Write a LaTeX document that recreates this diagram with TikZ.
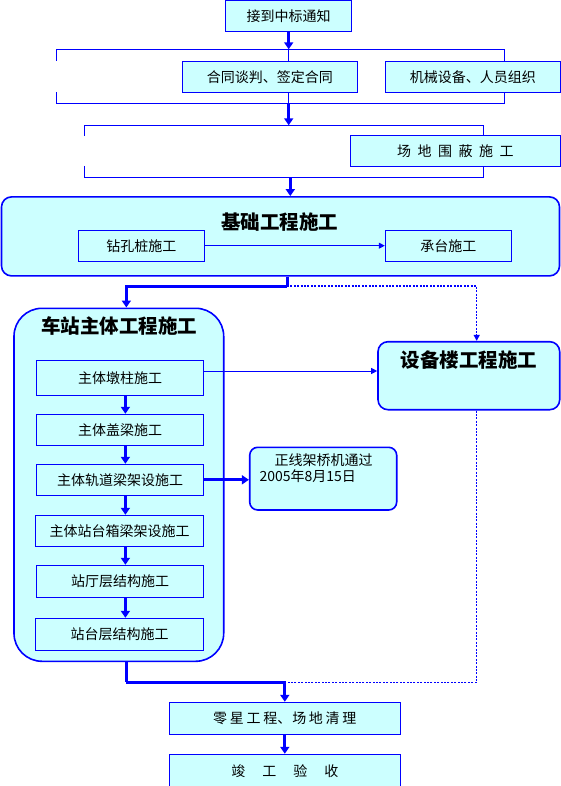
\documentclass[tikz,border=0pt]{standalone}
\usepackage{fontspec}
\setmainfont{Noto Sans CJK SC}
\usetikzlibrary{arrows.meta}
\definecolor{lb}{HTML}{0000FF}
\definecolor{cy}{HTML}{CCFFFF}
\begin{document}
\begin{tikzpicture}[x=1pt,y=-1pt,
 box/.style={draw=lb, line width=1pt, fill=cy, inner sep=0pt, font=\fontsize{14}{16}\selectfont},
 rbox/.style={draw=lb, line width=1.6pt, fill=cy, inner sep=0pt, rounded corners=#1},
 ttl/.style={font=\fontsize{19.5}{22}\selectfont\bfseries, inner sep=0pt},
 thk/.style={draw=lb, line width=3pt, -{Triangle[width=9pt,length=7pt]}},
 thn/.style={draw=lb, line width=1pt, -{Triangle[width=6pt,length=6pt]}},
 dotl/.style={draw=lb, line width=1.3pt, dash pattern=on 2pt off 1.4pt},
 brk/.style={draw=lb, line width=1pt}
]
\path[use as bounding box, fill=white] (0,0) rectangle (561,786);

% top boxes
\node[box, minimum width=126.4pt, minimum height=31pt] (n1) at (288.5,16) {接到中标通知};
\node[box, minimum width=175pt, minimum height=31pt] (n2a) at (269.8,76.8) {合同谈判、签定合同};
\node[box, minimum width=175pt, minimum height=31pt] (n2b) at (472.8,76.8) {机械设备、人员组织};
\node[box, minimum width=210pt, minimum height=30.7pt] (n3) at (455.3,150.7) {场\hspace{6.5pt}地\hspace{6.5pt}围\hspace{6.5pt}蔽\hspace{6.5pt}施\hspace{6.5pt}工};

% brackets
\coordinate (b1t) at (288.7,49.3);
\coordinate (b1b) at (288.7,103.3);
\coordinate (b2t) at (288.7,125.3);
\coordinate (b2b) at (290.3,177.3);
\draw[brk] (56.3,60.7) -- (56.3,49.3) -- (504.3,49.3) -- (504.3,49.3 |- n2b.north);
\draw[brk] (56.3,92.3) -- (56.3,103.3) -- (504.3,103.3) -- (504.3,103.3 |- n2b.south);
\draw[brk] (b1t) -- (b1t |- n2a.north);
\draw[brk] (b1b |- n2a.south) -- (b1b);
\draw[brk] (84.3,135.7) -- (84.3,125.3) -- (483.3,125.3) -- (483.3,125.3 |- n3.north);
\draw[brk] (84.3,166) -- (84.3,177.3) -- (483.3,177.3) -- (483.3,177.3 |- n3.south);

% foundation
\node[rbox=10pt, minimum width=558pt, minimum height=79pt] (big) at (280.5,236.4) {};
\node[ttl] (bigt) at (279.7,221.7) {基础工程施工};
\node[box, minimum width=126pt, minimum height=31.3pt] (z1) at (141.3,245.7) {钻孔桩施工};
\node[box, minimum width=126pt, minimum height=31.3pt] (z2) at (448.3,245.7) {承台施工};

% station
\node[rbox=28pt, minimum width=209.7pt, minimum height=353pt] (station) at (118.85,484.8) {};
\node[ttl] (stt) at (119,325.5) {车站主体工程施工};
\node[box, minimum width=167.4pt, minimum height=35pt] (s1) at (120,377.8) {主体墩柱施工};
\node[box, minimum width=167.4pt, minimum height=31pt] (s2) at (120,429.8) {主体盖梁施工};
\node[box, minimum width=167.4pt, minimum height=31pt] (s3) at (120,479.8) {主体轨道梁架设施工};
\node[box, minimum width=168.4pt, minimum height=31pt] (s4) at (119.5,530.8) {主体站台箱梁架设施工};
\node[box, minimum width=167.4pt, minimum height=31.7pt] (s5) at (120,581.15) {站厅层结构施工};
\node[box, minimum width=168.4pt, minimum height=32pt] (s6) at (119.5,634.3) {站台层结构施工};

% equipment
\node[rbox=10pt, minimum width=181.7pt, minimum height=68pt] (equip) at (468.85,375.7) {};
\node[ttl] (eqt) at (469,360) {设备楼工程施工};

% note
\node[rbox=8pt, minimum width=147pt, minimum height=62.7pt] (note) at (323.2,478.65) {};
\node[anchor=north west, inner sep=0pt, align=left, font=\fontsize{14}{16}\selectfont] (notet) at (259.3,453.3) {\hspace*{15pt}正线架桥机通过\\2005年8月15日};

% final
\node[box, minimum width=231pt, minimum height=32pt] (f1) at (284.8,718.3) {零\hspace{2.7pt}星\hspace{2.7pt}工\hspace{2.7pt}程、\hspace{1pt}场\hspace{2.7pt}地\hspace{2.7pt}清\hspace{2.7pt}理};
\node[box, minimum width=231pt, minimum height=34pt] (f2) at (284.8,771.3) {竣\hspace{17pt}工\hspace{17pt}验\hspace{17pt}收};

% connectors
\coordinate (j1) at (287,286);
\coordinate (j2) at (126.3,682.3);
\draw[dotl, -{Triangle[width=6pt,length=6pt]}] (j1) -| ([xshift=7.85pt]equip.north);
\draw[dotl] ([xshift=7.85pt]equip.south) |- (f1.north |- j2);

\draw[thk] (n1.south -| b1t) -- (b1t);
\draw[thk] (b1b) -- (b2t);
\draw[thk] (b2b) -- (b2b |- big.north);
\draw[thn] (z1.east) -- (z2.west);
\draw[thk, -] (j1 |- big.south) -- (j1);
\draw[thk] (j1) -| ([xshift=7.5pt]station.north);
\foreach \a/\b in {s1/s2,s2/s3,s3/s4,s4/s5,s5/s6}
  \draw[thk] (125.4,0 |- \a.south) -- (125.4,0 |- \b.north);
\draw[thn] ([yshift=6.8pt]s1.east) -- ([yshift=6.8pt]s1.east -| equip.west);
\draw[thk] (s3.east) -- (s3.east -| note.west);
\draw[thk, -] (j2 |- station.south) -- (j2);
\draw[thk] (j2) -| (f1.north);
\draw[thk] (f1.south) -- (f2.north);
\end{tikzpicture}
\end{document}
